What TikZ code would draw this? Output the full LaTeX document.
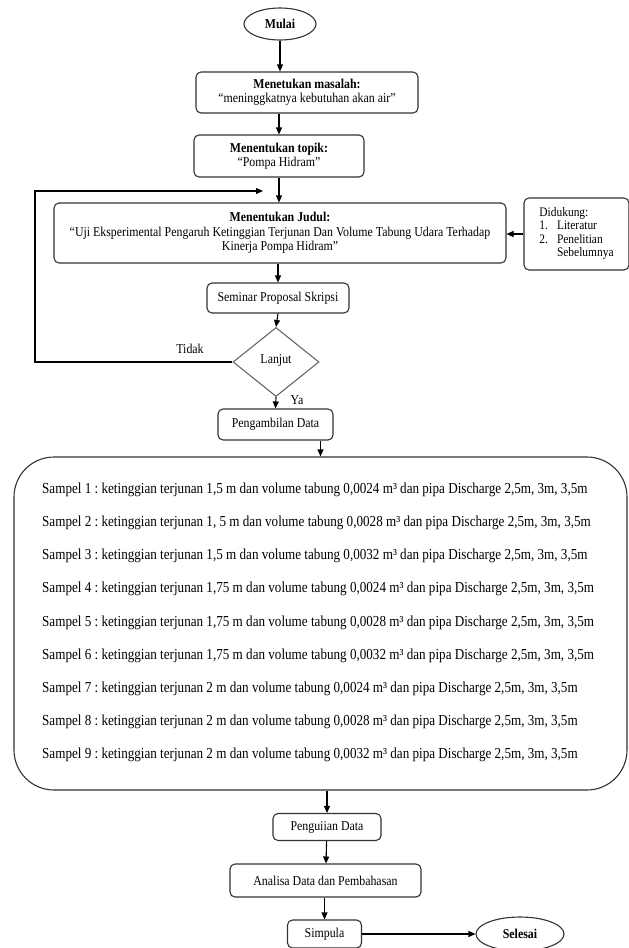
\documentclass[tikz,border=0pt]{standalone}
\usepackage{fontspec}
\setmainfont{Liberation Serif}[FakeStretch=0.88]
\newfontfamily\sampelfont{Liberation Serif}[FakeStretch=0.86]
\usetikzlibrary{positioning,arrows.meta,shapes.geometric,calc}

\begin{document}
\begin{tikzpicture}[
    x=1pt, y=-1pt,
    font=\fontsize{13.5}{14.5}\selectfont,
    box/.style={draw=black!80, line width=1.1pt, rectangle, rounded corners=5pt, align=center, inner sep=2pt},
    terminal/.style={draw=black!80, line width=1.1pt, ellipse, inner sep=1pt, font=\fontsize{13.5}{14.5}\selectfont\bfseries},
    decision/.style={draw=black!60, line width=1.1pt, diamond, aspect=1.26, inner sep=0pt},
    sampeltext/.style={anchor=west, inner sep=0pt, font=\sampelfont\fontsize{15.25}{16}\selectfont\frenchspacing},
    arrow/.style={-{Triangle[width=6pt,length=7pt]}, line width=1.1pt}
]
\useasboundingbox (0,0) rectangle (629,948);

% Bagian atas
\node[terminal, minimum width=72pt, minimum height=32pt] (mulai) at (280,24) {Mulai};
\node[box, minimum width=222pt, minimum height=41pt] (masalah) at (307,92.5) {\textbf{Menetukan masalah:}\\“meninggkatnya kebutuhan akan air”};
\node[box, minimum width=170pt, minimum height=42pt] (topik) at (279,156) {\textbf{Menentukan topik:}\\“Pompa Hidram”};
\node[box, minimum width=452pt, minimum height=60pt] (judul) at (280,233) {\textbf{Menentukan Judul:}\\“Uji Eksperimental Pengaruh Ketinggian Terjunan Dan Volume Tabung Udara Terhadap\\Kinerja Pompa Hidram”};
\node[box, minimum width=105pt, minimum height=72pt, align=left, font=\fontsize{13}{13.5}\selectfont] (dukung) at (576.5,234) {%
  \begin{tabular}{@{}l@{\hspace{9pt}}l@{}}
  \multicolumn{2}{@{}l}{Didukung:}\\
  1. & Literatur\\
  2. & Penelitian\\
     & Sebelumnya
  \end{tabular}};
\node[box, minimum width=142pt, minimum height=30pt] (seminar) at (278,298) {Seminar Proposal Skripsi};
\node[decision, minimum width=86pt, minimum height=69pt] (lanjut) at (276,362) {\raisebox{6pt}{Lanjut}};
\node (tidak) at (190,349) {Tidak};
\node (ya) at (297,400) {Ya};
\node[box, minimum width=115pt, minimum height=31pt] (ambil) at (275.5,424.5) {Pengambilan Data};

% Kotak sampel
\node[box, rounded corners=40pt, minimum width=613pt, minimum height=333pt] (sampel) at (320.5,623.5) {};
\foreach \i/\h/\v in {1/{1,5}/{0,0024}, 2/{1, 5}/{0,0028}, 3/{1,5}/{0,0032},
                      4/{1,75}/{0,0024}, 5/{1,75}/{0,0028}, 6/{1,75}/{0,0032},
                      7/2/{0,0024}, 8/2/{0,0028}, 9/2/{0,0032}}
  \node[sampeltext] (s\i) at (42,{490+33.1*(\i-1)}) {Sampel \i{} : ketinggian terjunan \h{} m dan volume tabung \v{} m³ dan pipa Discharge 2,5m, 3m, 3,5m};

% Bagian bawah
\node[box, minimum width=108pt, minimum height=27pt] (uji) at (327,827) {Penguiian Data};
\node[box, minimum width=191pt, minimum height=33pt] (analisa) at (325.5,880.5) {Analisa Data dan Pembahasan};
\node[box, minimum width=74pt, minimum height=28pt] (simpula) at (324.5,934) {Simpula};
\node[terminal, minimum width=88pt, minimum height=34pt] (selesai) at (520,934) {Selesai};

% Jalur balik
\coordinate (kiri) at (35,191);
\coordinate (balik) at (263,191);

\draw[arrow] (mulai.south) -- (mulai.south |- masalah.north);
\draw[arrow] (masalah.south -| topik.north) -- (topik.north);
\draw[arrow] (topik.south) -- (topik.south |- judul.north);
\draw[arrow] (dukung.west) -- (dukung.west -| judul.east);
\draw[arrow] (judul.south -| seminar.north) -- (seminar.north);
\draw[arrow] (seminar.south) -- (lanjut.north);
\draw[arrow] (lanjut.west) -| (kiri) -- (balik);
\draw[arrow] (lanjut.south) -- (ambil.north);
\draw[arrow] (sampel.north |- ambil.south) -- (sampel.north);
\draw[arrow] (sampel.south -| uji.north) -- (uji.north);
\draw[arrow] (uji) -- (analisa);
\draw[arrow] (analisa.south -| simpula.north) -- (simpula.north);
\draw[arrow] (simpula) -- (selesai);

\end{tikzpicture}
\end{document}
